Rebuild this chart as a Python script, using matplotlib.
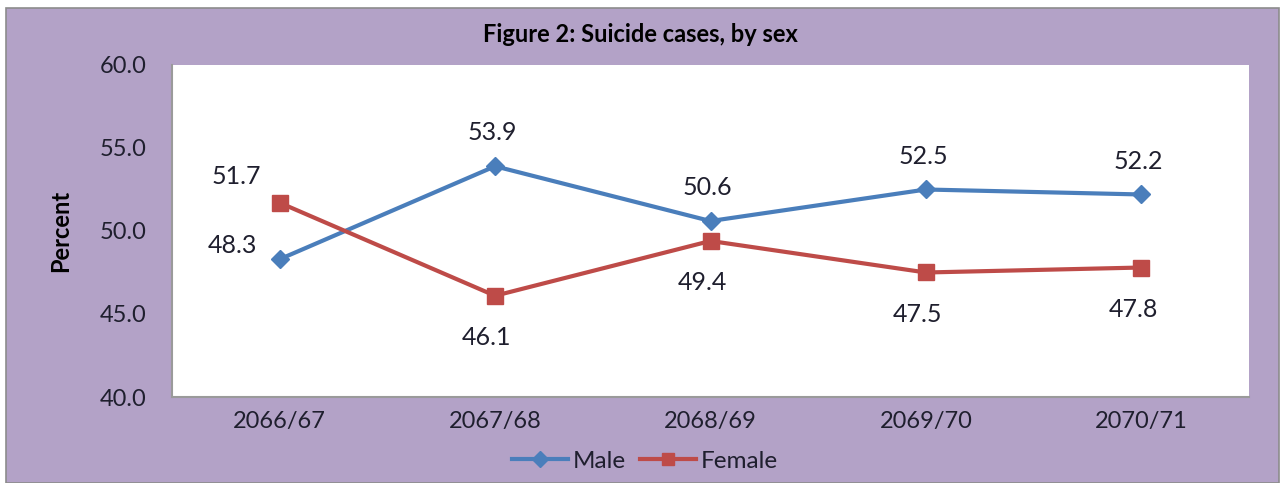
import matplotlib
matplotlib.use('Agg')
import matplotlib.pyplot as plt
from matplotlib.patches import Rectangle

annees = ['2066/67', '2067/68', '2068/69', '2069/70', '2070/71']
homme = [48.3, 53.9, 50.6, 52.5, 52.2]
femme = [51.7, 46.1, 49.4, 47.5, 47.8]

plt.rcParams['font.family'] = ['Lato', 'DejaVu Sans']

violet = '#B3A2C7'
bleu = '#4A7EBB'
rouge = '#BE4B48'
texte = '#1F1F2E'

fig = plt.figure(figsize=(12.81, 4.83), dpi=100, facecolor='white')
# fond violet avec un liseré gris
fig.patches.append(Rectangle((6 / 1281, 0), 1273 / 1281, 475 / 483, transform=fig.transFigure,
                             facecolor=violet, edgecolor='#8C8C8C', linewidth=1.2, zorder=-10))

ax = fig.add_axes([172 / 1281, 1 - 397 / 483, 1077 / 1281, 332 / 483])
ax.set_facecolor('white')

x = range(len(annees))
ax.plot(x, homme, color=bleu, linewidth=3, marker='D', markersize=9, label='Male')
ax.plot(x, femme, color=rouge, linewidth=3, marker='s', markersize=11, label='Female')

ax.set_xlim(-0.5, len(annees) - 0.5)
ax.set_ylim(40, 60)
ax.set_yticks([40, 45, 50, 55, 60])
ax.set_yticklabels([f'{v:.1f}' for v in [40, 45, 50, 55, 60]])
ax.set_xticks(list(x))
ax.set_xticklabels(annees)
ax.tick_params(length=0, labelsize=17, colors=texte)
ax.tick_params(axis='y', pad=18)
ax.tick_params(axis='x', pad=10)
for s in ['top', 'right']:
    ax.spines[s].set_visible(False)
for s in ['left', 'bottom']:
    ax.spines[s].set_color('#9A9A9A')
    ax.spines[s].set_linewidth(1.5)

# étiquettes de valeurs
for i, (h, f) in enumerate(zip(homme, femme)):
    if h < f:
        ax.annotate(f'{h:.1f}', (i, h), xytext=(-34, 10), textcoords='offset points',
                    ha='center', va='center', fontsize=18, color=texte)
        ax.annotate(f'{f:.1f}', (i, f), xytext=(-31, 19), textcoords='offset points',
                    ha='center', va='center', fontsize=18, color=texte)
    else:
        ax.annotate(f'{h:.1f}', (i, h), xytext=(-2, 24), textcoords='offset points',
                    ha='center', va='center', fontsize=18, color=texte)
        ax.annotate(f'{f:.1f}', (i, f), xytext=(-6, -30), textcoords='offset points',
                    ha='center', va='center', fontsize=18, color=texte)

ax.set_ylabel('Percent', fontsize=17, fontweight='bold', color='black', labelpad=20)
fig.text(640 / 1281, 1 - 35 / 483, 'Figure 2: Suicide cases, by sex', ha='center', va='center',
         fontsize=17, fontweight='bold', color='black')

fig.legend(loc='center', bbox_to_anchor=(645 / 1281, 1 - 461 / 483), ncol=2, frameon=False,
           fontsize=17.5, handlelength=2.3, columnspacing=0.6, handletextpad=0.2,
           labelcolor=texte, markerscale=0.85)

fig.savefig('out.png', dpi=100, facecolor=fig.get_facecolor())
